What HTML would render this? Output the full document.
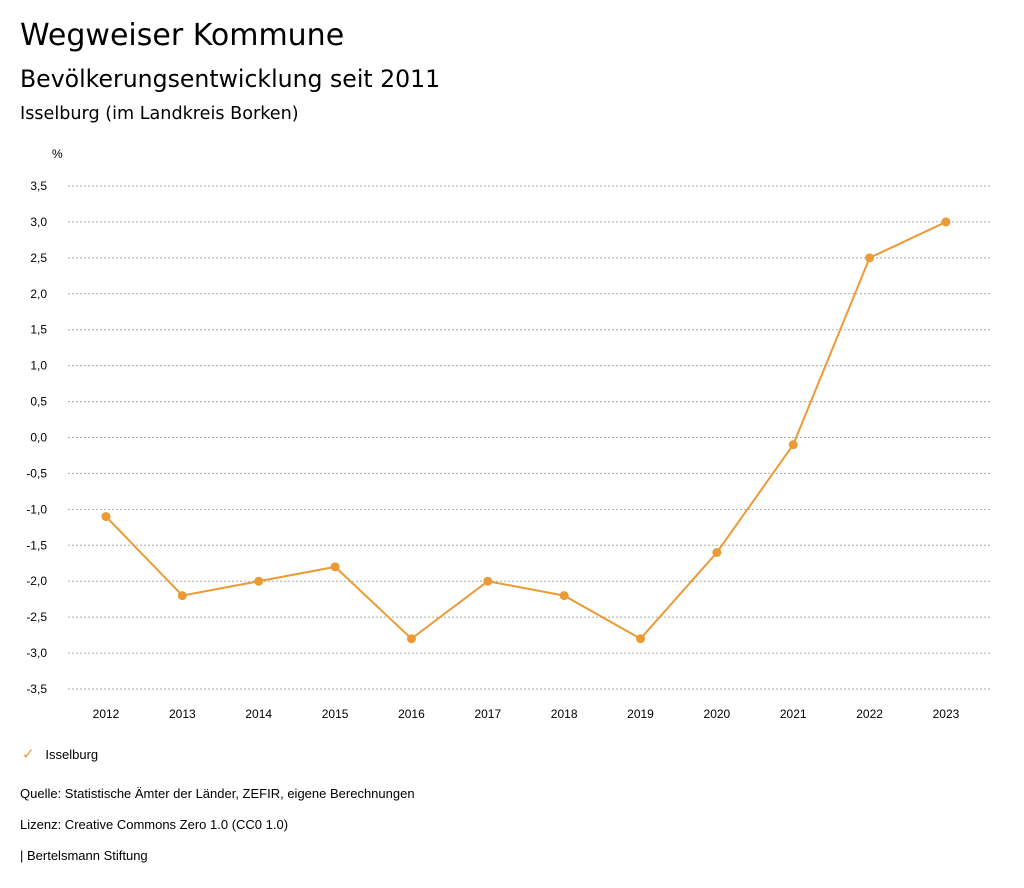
<!DOCTYPE html>
<html><head><meta charset="utf-8"><style>
body{margin:0;background:#fff;font-family:"Liberation Sans",sans-serif;color:#000}
.t{position:absolute;white-space:nowrap}
.d{font-family:"DejaVu Sans",sans-serif}
</style></head><body>
<div style="position:relative;width:1024px;height:888px;overflow:hidden">
<div class="t d" style="left:20px;top:18px;font-size:30px">Wegweiser Kommune</div>
<div class="t d" style="left:20px;top:65px;font-size:23.6px">Bevölkerungsentwicklung seit 2011</div>
<div class="t d" style="left:20px;top:104px;font-size:17.6px">Isselburg (im Landkreis Borken)</div>
<svg id="chart" width="1024" height="740" style="position:absolute;left:0;top:0"></svg>
<div class="t" style="left:22px;top:745px;font-size:13px"><span style="color:#ec9a36;font-size:15px">✓</span>&nbsp;&nbsp;&nbsp;Isselburg</div>
<div class="t" style="left:20px;top:786px;font-size:13px">Quelle: Statistische Ämter der Länder, ZEFIR, eigene Berechnungen</div>
<div class="t" style="left:20px;top:817px;font-size:13px">Lizenz: Creative Commons Zero 1.0 (CC0 1.0)</div>
<div class="t" style="left:20px;top:848px;font-size:13px">| Bertelsmann Stiftung</div>
</div>
<script>
const years=["2012","2013","2014","2015","2016","2017","2018","2019","2020","2021","2022","2023"];
const values=[-1.1,-2.2,-2.0,-1.8,-2.8,-2.0,-2.2,-2.8,-1.6,-0.1,2.5,3.0];
const ticks=[3.5,3.0,2.5,2.0,1.5,1.0,0.5,0.0,-0.5,-1.0,-1.5,-2.0,-2.5,-3.0,-3.5];
const NS="http://www.w3.org/2000/svg";
const svg=document.getElementById('chart');
const y=v=>437.5-v*71.86;
const x=i=>106+i*76.36;
function mk(t,a){const e=document.createElementNS(NS,t);for(const k in a)e.setAttribute(k,a[k]);svg.appendChild(e);return e;}
const u=mk('text',{x:52,y:158,'font-size':12});u.textContent='%';


ticks.forEach(v=>{
 const l=mk('line',{x1:68,x2:990,y1:y(v),y2:y(v),stroke:'#aaa','stroke-dasharray':'2,2','stroke-width':1});
 
 
 const t=mk('text',{x:47,y:y(v)+4,'font-size':12,'text-anchor':'end'});
 t.textContent=v.toFixed(1).replace('.',',');
 
 
});
years.forEach((yr,i)=>{
 const t=mk('text',{x:x(i),y:718,'font-size':12,'text-anchor':'middle'});
 t.textContent=yr;
 
 
});
const p=mk('polyline',{points:values.map((v,i)=>x(i)+','+y(v)).join(' '),fill:'none',stroke:'#ec9a36','stroke-width':2});


values.forEach((v,i)=>{
 const c=mk('circle',{cx:x(i),cy:y(v),r:4.5,fill:'#ec9a36'});
 
 
});
</script>
</body></html>
